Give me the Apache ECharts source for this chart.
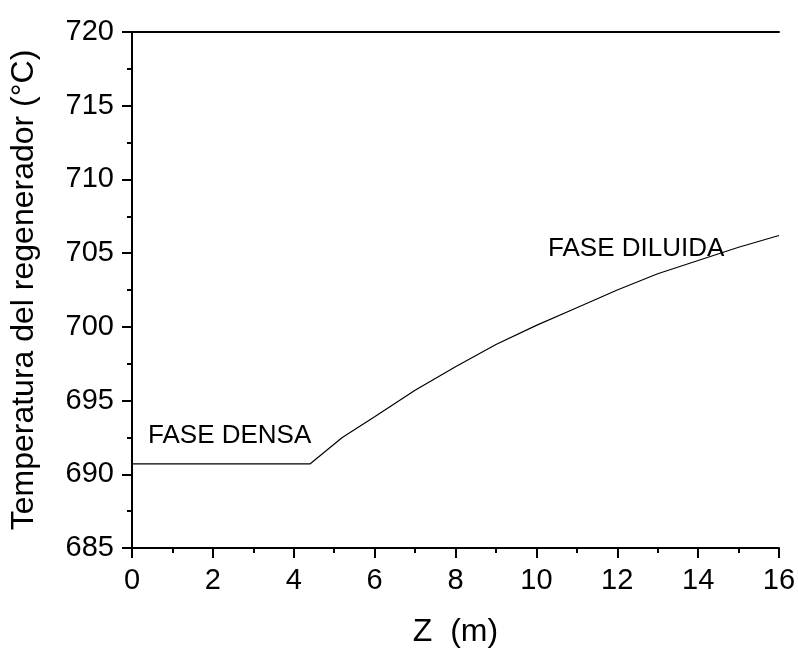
<!DOCTYPE html>
<html>
<head>
<meta charset="utf-8">
<script src="https://cdn.jsdelivr.net/npm/echarts@6/dist/echarts.min.js"></script>
<style>
  html, body { margin: 0; padding: 0; background: #fff; }
  #chart { width: 798px; height: 648px; }
</style>
</head>
<body>
<div id="chart"></div>
<script>
// Z (m) positions and regenerator temperature (°C)
const zValues = [0, 4.4, 5.2, 6, 7, 8, 9, 10, 11, 12, 13, 14, 15, 16];
const tempValues = [690.7, 690.7, 692.5, 693.9, 695.7, 697.3, 698.8, 700.1, 701.3, 702.5, 703.6, 704.5, 705.4, 706.2];

const denseLabel = 'FASE DENSA';
const diluteLabel = 'FASE DILUIDA';

const font = '"Liberation Sans", Arial, sans-serif';
const chart = echarts.init(document.getElementById('chart'));

const axisLine = { show: true, lineStyle: { color: '#000', width: 2 } };

chart.setOption({
  animation: false,
  backgroundColor: '#fff',
  grid: { left: 132, right: 19, top: 32, bottom: 100, outerBoundsMode: 'none', containLabel: false },
  xAxis: [{
    type: 'value',
    min: 0, max: 16, interval: 2,
    name: 'Z  (m)',
    nameLocation: 'middle',
    nameGap: 68,
    nameTextStyle: { fontFamily: font, fontSize: 32, color: '#000' },
    axisLine: axisLine,
    axisTick: { show: true, inside: false, length: 10, lineStyle: { color: '#000', width: 2 } },
    minorTick: { show: true, splitNumber: 2, length: 5, lineStyle: { color: '#000', width: 2 } },
    axisLabel: { fontFamily: font, fontSize: 29, color: '#000', margin: 18 },
    splitLine: { show: false }
  }, {
    type: 'value', position: 'top', min: 0, max: 16,
    axisLine: axisLine, axisTick: { show: false }, axisLabel: { show: false }, splitLine: { show: false }
  }],
  yAxis: [{
    type: 'value',
    min: 685, max: 720, interval: 5,
    name: 'Temperatura del regenerador (°C)',
    nameLocation: 'middle',
    nameGap: 92,
    nameTextStyle: { fontFamily: font, fontSize: 32, color: '#000' },
    axisLine: axisLine,
    axisTick: { show: true, inside: false, length: 10, lineStyle: { color: '#000', width: 2 } },
    minorTick: { show: true, splitNumber: 2, length: 5, lineStyle: { color: '#000', width: 2 } },
    axisLabel: { fontFamily: font, fontSize: 29, color: '#000', margin: 18 },
    splitLine: { show: false }
  }, {
    type: 'value', position: 'right', min: 685, max: 720,
    axisLine: axisLine, axisTick: { show: false }, axisLabel: { show: false }, splitLine: { show: false }
  }],
  series: [{
    type: 'line',
    data: zValues.map((z, i) => [z, tempValues[i]]),
    showSymbol: false,
    lineStyle: { color: '#000', width: 1.2 },
    z: 3
  }],
  graphic: [
    {
      type: 'text', left: 148, top: 423,
      style: { text: denseLabel, font: '26px ' + font, fill: '#000' }
    },
    {
      type: 'text', left: 548, top: 236,
      style: { text: diluteLabel, font: '26px ' + font, fill: '#000' }
    }
  ]
});
</script>
</body>
</html>
